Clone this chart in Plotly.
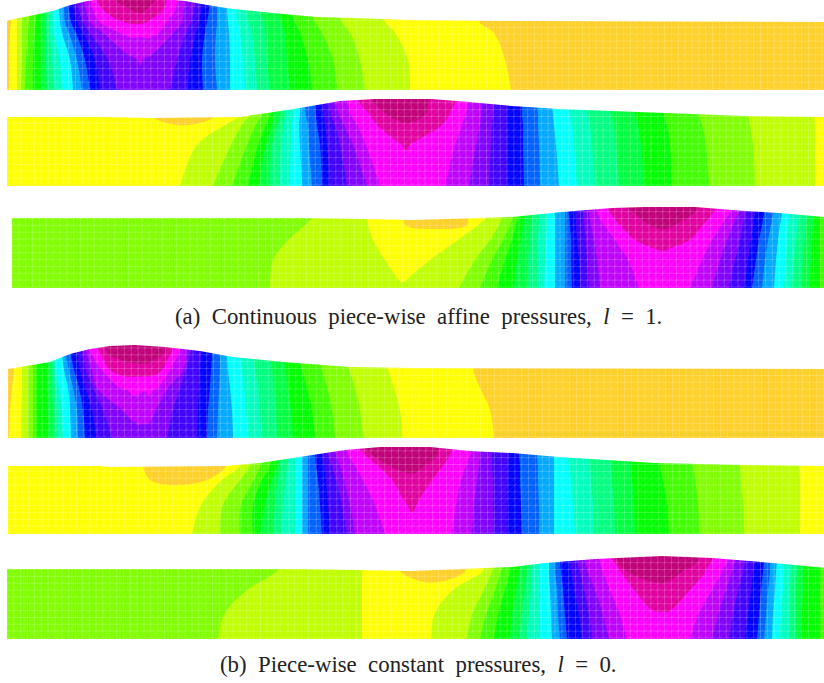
import numpy as np
import plotly.graph_objects as go

# Pressure bands, lowest to highest (19 levels)
BAND_COLORS = ["#ffd028", "#ffff00", "#bfff00", "#80ff00", "#40ff00", "#00ff00", "#00ff40",
               "#00ff80", "#00ffbf", "#00ffff", "#00a8ff", "#0060ff", "#0000ff", "#4000ff",
               "#8000ff", "#bf00ff", "#ff00ff", "#e000a0", "#c00078"]

# Each panel: sampled rows (y), sampled columns as (pressure level, x in each row), top surface.
P1_ROWS = [-2, 10, 22, 33, 60, 90]
P1_COLS = [
    (0, 7), (0.5, [11, 11, 11, 10, 9, 9]), (1.5, 17), (2.5, [23, 23, 22, 22, 22, 21]),
    (3.5, [30, 30, 29, 28, 26, 25]), (4.5, [37, 37, 36, 35, 33, 33]), (5.5, [43, 42, 42, 42, 42, 42]),
    (6.5, [47, 47, 46, 46, 46, 47]), (7.5, [51, 50, 50, 50, 52, 55]), (8.5, [53, 53, 53, 54, 60, 63]),
    (9.5, [58, 59, 60, 62, 70, 73]), (10.5, [63, 64, 65, 69, 77, 82]), (11.5, [67, 69, 71, 76, 85, 90]),
    (12.5, [72, 74, 77, 83, 95, 100]), (13.5, [77, 79, 83, 90, 108, 117]),
    ([14.5, 14.5, 14.5, 14.5, 14.2, 14], [83, 86, 90, 103, 120, 130]),
    ([15.5, 15.5, 15.5, 15.5, 14.3, 14], [90, 93, 100, 120, 130, 135]),
    ([16.5, 16.5, 16.5, 15.8, 14.4, 14], [96, 103, 123, 130, 135, 138]),
    ([19, 17.8, 16.7, 15.7, 14.6, 14.1], 140),
    ([16.5, 16.5, 16.5, 15.8, 14.4, 14], [167, 163, 147, 150, 145, 142]),
    ([15.5, 15.5, 15.5, 15.5, 14.3, 14], [178, 175, 167, 158, 150, 146]),
    ([14.5, 14.5, 14.5, 14.5, 14.2, 14], [186, 184, 182, 173, 160, 150]),
    (13.5, [196, 194, 191, 186, 177, 170]), (12.5, [202, 201, 199, 196, 190, 188]),
    (11.5, [210, 209, 207, 205, 202, 203]), (10.5, [218, 217, 217, 216, 215, 217]),
    (9.5, [226, 227, 228, 229, 230, 230]), (8.5, [235, 236, 238, 240, 243, 245]),
    (7.5, [245, 246, 249, 252, 255, 257]), (6.5, [258, 260, 264, 266, 267, 270]),
    (5.5, [275, 277, 282, 285, 287, 290]), (4.5, [288, 290, 295, 300, 308, 312]),
    (3.5, [307, 309, 315, 322, 333, 337]), (2.5, [335, 337, 342, 350, 360, 365]),
    (1.5, [380, 381, 385, 395, 408, 410]), (0.5, [476, 477, 479, 494, 505, 511]), (0, 824),
]
P1_TOP_X = [7, 10, 30, 53, 67, 87, 95, 135, 175, 185, 207, 233, 283, 317, 367, 412, 520, 824]
P1_TOP_Y = [21, 20, 16, 11, 6, 1, 0, -6, 0, 1, 5, 9, 14, 17, 18.5, 20, 21, 22]

P2_ROWS = [95, 105, 115, 125, 145, 186]
P2_COLS = [
    (1, 7),
    ([0.5, 0.5, 0.5, 0.8, 1, 1], [150, 150, 150, 165, 165, 165]),
    ([0, 0, 0.2, 0.45, 1, 1], [182, 182, 182, 182, 172, 170]),
    ([0.5, 0.5, 0.5, 0.8, 1, 1], [217, 217, 217, 200, 180, 174]),
    (1.5, [245, 243, 241, 225, 197, 180]), (2.5, [256, 254, 251, 242, 231, 213]),
    (3.5, [265, 264, 262, 256, 247, 232]), (4.5, [273, 272, 270, 266, 258, 248]),
    (5.5, [277, 276, 274, 272, 266, 259]), (6.5, [283, 282, 281, 278, 272, 270]),
    (7.5, [287, 286, 285, 284, 281, 280]), (8.5, [294, 294, 293, 292, 291, 290]),
    (9.5, [300, 300, 300, 299, 300, 302]), (10.5, [304, 305, 306, 308, 309, 312]),
    (11.5, [313, 315, 316, 317, 320, 322]), (12.5, [320, 322, 323, 325, 327, 330]),
    (13.5, [327, 329, 331, 335, 340, 347]), (14.5, [333, 336, 339, 344, 353, 367]),
    (15.5, [345, 348, 351, 357, 366, 380]),
    ([16.5, 16.5, 16.5, 16.5, 16.4, 16], [355, 361, 370, 377, 397, 400]),
    ([17.5, 17.5, 17.5, 17.1, 16.45, 16], [368, 376, 388, 392, 400, 402]),
    ([19, 18.7, 18, 17.4, 16.6, 16], 406),
    ([17.5, 17.5, 17.5, 17.1, 16.45, 16], [430, 428, 425, 420, 412, 410]),
    ([16.5, 16.5, 16.5, 16.5, 16.4, 16], [458, 454, 449, 442, 419, 415]),
    (15.5, [470, 468, 465, 462, 455, 445]), (14.5, [483, 482, 481, 480, 476, 469]),
    (13.5, [494, 494, 493, 492, 491, 489]), (12.5, 507),
    (11.5, [522, 522, 522, 523, 523, 524]), (10.5, [537, 537, 538, 538, 539, 540]),
    (9.5, [551, 552, 553, 554, 556, 559]), (8.5, [567, 568, 570, 572, 574, 577]),
    (7.5, [585, 586, 588, 590, 592, 595]), (6.5, [609, 610, 612, 614, 616, 619]),
    (5.5, [630, 632, 635, 638, 641, 644]), (4.5, [659, 661, 664, 667, 670, 672]),
    (3.5, [694, 696, 699, 702, 706, 709]), (2.5, [744, 746, 748, 750, 753, 755]),
    (1.5, [814, 814, 814, 815, 815, 815]), (1, 824),
]
P2_TOP_X = [7, 100, 150, 240, 300, 340, 375, 412, 432, 469, 512, 559, 655, 745, 824]
P2_TOP_Y = [117, 117, 118, 117, 108, 101, 99, 99, 99, 102, 106, 109, 113, 116, 117]

P3_ROWS = [204, 214, 225, 240, 260, 288]
P3_COLS = [
    (3, 12), (2.5, [320, 315, 305, 288, 273, 270]),
    ([1.5, 1.5, 1.5, 1.5, 1.5, 1.65], [365, 366, 368, 373, 385, 396]),
    ([1, 1, 1, 1.1, 1.1, 1.6], [402, 402, 402, 402, 400, 402]),
    ([0.5, 0.5, 0.5, 0.9, 1.1, 1.6], [405, 405, 405, 417, 403, 404]),
    ([0, 0, 0.35, 0.9, 1.1, 1.6], [435, 435, 435, 425, 406, 406]),
    ([0.5, 0.5, 0.5, 0.9, 1.1, 1.65], [467, 467, 467, 440, 412, 408]),
    ([1.5, 1.5, 1.5, 1.5, 1.5, 1.7], [495, 490, 478, 458, 430, 410]),
    (2.5, [505, 503, 499, 490, 475, 459]), (3.5, [515, 513, 510, 503, 492, 480]),
    (4.5, [521, 519, 516, 512, 505, 497]), (5.5, [526, 525, 523, 521, 517, 514]),
    (6.5, [534, 533, 531, 530, 528, 527]), (7.5, [540, 539, 539, 538, 538, 537]),
    (8.5, [548, 547, 547, 546, 545, 544]), (9.5, 555), (10.5, 565),
    (11.5, [568, 569, 570, 571, 571, 572]), (12.5, [574, 575, 576, 577, 579, 580]),
    (13.5, [582, 583, 584, 586, 587, 589]), (14.5, [588, 589, 591, 594, 597, 600]),
    (15.5, [596, 598, 604, 615, 628, 639]),
    ([16.5, 16.5, 16.5, 16.5, 16.1, 16], [605, 611, 620, 635, 650, 655]),
    ([17.5, 17.5, 17.5, 16.8, 16.1, 16], [622, 635, 650, 650, 658, 660]),
    ([19, 18.5, 17.8, 16.9, 16.2, 16], 664),
    ([17.5, 17.5, 17.5, 16.8, 16.1, 16], [702, 693, 675, 672, 668, 668]),
    ([16.5, 16.5, 16.5, 16.5, 16.1, 16], [720, 712, 703, 690, 675, 672]),
    (15.5, [735, 729, 722, 712, 702, 690]), (14.5, [742, 738, 733, 727, 720, 712]),
    (13.5, [749, 746, 743, 740, 735, 729]), (12.5, [757, 755, 753, 751, 748, 744]),
    (11.5, [766, 764, 762, 759, 756, 752]), (10.5, [775, 773, 771, 768, 765, 762]),
    (9.5, [783, 782, 780, 778, 776, 774]), (8.5, [790, 790, 788, 787, 786, 784]),
    (7.5, [800, 799, 798, 796, 794, 792]), (6.5, [808, 807, 806, 805, 803, 802]),
    (5.5, [815, 814, 813, 812, 811, 810]), (4.5, [821, 820, 820, 820, 820, 820]), (4.2, 824),
]
P3_TOP_X = [12, 310, 412, 512, 562, 612, 645, 695, 745, 779, 824]
P3_TOP_Y = [218, 218, 220, 217, 212, 208, 207, 207, 211, 213, 217]

P4_ROWS = [343, 355, 370, 388, 410, 438]
P4_COLS = [
    (0, 8), (0.5, [15, 15, 14, 12, 10, 9]), (1.5, [22, 22, 22, 22, 21, 21]), (2.5, 28), (3.5, 33),
    (4.5, 37), (5.5, [46, 46, 47, 47, 48, 48]), (6.5, [50, 50, 51, 52, 53, 53]),
    (7.5, [53, 53, 54, 55, 57, 58]), (8.5, [55, 55, 56, 59, 62, 63]), (9.5, [61, 62, 64, 68, 70, 71]),
    (10.5, [65, 66, 69, 73, 77, 78]), (11.5, [70, 71, 74, 79, 83, 85]), (12.5, [75, 77, 80, 85, 92, 96]),
    (13.5, [80, 83, 86, 93, 103, 112]),
    ([14.5, 14.5, 14.5, 14.5, 14.5, 14.1], [84, 87, 92, 97, 122, 132]),
    ([15.5, 15.5, 15.5, 15.5, 14.8, 14.1], [88, 92, 102, 120, 130, 136]),
    ([16.5, 16.5, 16.5, 15.6, 14.9, 14.1], [95, 101, 110, 127, 134, 138]),
    ([17.5, 17.5, 16.9, 15.8, 15, 14.1], [102, 110, 120, 132, 137, 140]),
    ([19, 18.2, 17, 15.6, 14.9, 14.1], 145),
    ([17.5, 17.5, 16.9, 15.8, 15, 14.1], [170, 162, 153, 150, 148, 147]),
    ([16.5, 16.5, 16.5, 15.6, 14.9, 14.1], [176, 170, 162, 153, 150, 149]),
    ([15.5, 15.5, 15.5, 15.5, 14.8, 14.1], [182, 178, 170, 158, 152, 151]),
    ([14.5, 14.5, 14.5, 14.5, 14.5, 14.1], [188, 186, 183, 168, 156, 153]),
    (13.5, [193, 190, 186, 180, 173, 167]), (12.5, [202, 201, 200, 199, 198, 197]),
    (11.5, [213, 212, 211, 210, 208, 207]), (10.5, [221, 220, 220, 219, 218, 217]),
    (9.5, [226, 227, 228, 230, 232, 233]), (8.5, [238, 240, 242, 244, 246, 248]),
    (7.5, [251, 253, 255, 258, 260, 262]), (6.5, [268, 270, 272, 274, 276, 277]),
    (5.5, [281, 283, 286, 288, 291, 293]), (4.5, [295, 297, 302, 307, 312, 315]),
    (3.5, [315, 317, 322, 327, 332, 335]), (2.5, [341, 343, 349, 355, 360, 363]),
    (1.5, [382, 383, 388, 394, 400, 402]), (0.5, [472, 472, 473, 480, 490, 494]), (0, 824),
]
P4_TOP_X = [8, 50, 70, 90, 110, 135, 165, 200, 233, 283, 350, 412, 824]
P4_TOP_Y = [369, 362, 354, 349, 346, 345, 347, 351, 357, 362, 367, 368, 369]

P5_ROWS = [444, 455, 466, 480, 505, 534]
P5_COLS = [
    (1, 8),
    ([0.5, 0.5, 0.5, 0.5, 1, 1], [143, 143, 143, 150, 170, 172]),
    ([0, 0, 0.1, 0.35, 1, 1], [185, 185, 185, 175, 174, 175]),
    ([0.5, 0.5, 0.5, 0.5, 1, 1], [226, 226, 226, 207, 180, 182]),
    (1.5, [245, 243, 240, 222, 201, 192]), (2.5, [256, 254, 250, 240, 223, 220]),
    (3.5, [265, 263, 260, 254, 241, 240]), (4.5, [273, 272, 270, 262, 253, 253]),
    (5.5, [279, 278, 277, 272, 265, 260]), (6.5, [282, 281, 280, 278, 275, 273]),
    (7.5, [288, 288, 287, 286, 283, 282]), (8.5, 295), (9.5, 302), (10.5, 308),
    (11.5, [314, 315, 316, 318, 320, 322]), (12.5, [320, 322, 324, 326, 328, 330]),
    (13.5, [326, 328, 332, 336, 342, 347]), (14.5, [332, 336, 340, 344, 350, 355]),
    (15.5, [345, 348, 355, 363, 375, 385]),
    ([16.5, 16.5, 16.5, 16.5, 16.3, 16], [355, 365, 378, 392, 402, 404]),
    ([17.5, 17.5, 17.5, 17.1, 16.4, 16], [360, 372, 390, 400, 405, 407]),
    ([19, 18.6, 17.9, 17.2, 16.7, 16], 412),
    ([17.5, 17.5, 17.5, 17.1, 16.4, 16], [440, 437, 425, 420, 418, 416]),
    ([16.5, 16.5, 16.5, 16.5, 16.3, 16], [455, 450, 443, 432, 420, 418]),
    (15.5, [473, 470, 466, 461, 456, 452]), (14.5, [482, 480, 479, 477, 474, 472]),
    (13.5, [491, 492, 492, 493, 493, 494]), (12.5, [509, 509, 508, 508, 507, 507]),
    (11.5, [518, 519, 520, 520, 521, 522]), (10.5, [537, 537, 538, 538, 539, 539]), (9.5, 554),
    (8.5, [566, 567, 569, 571, 573, 575]), (7.5, [588, 589, 590, 591, 593, 594]),
    (6.5, [608, 609, 611, 612, 614, 615]), (5.5, [628, 629, 631, 632, 634, 635]),
    (4.5, [655, 657, 660, 663, 667, 669]), (3.5, [688, 690, 693, 695, 698, 699]),
    (2.5, [735, 737, 740, 741, 743, 744]), (1.5, [799, 799, 799, 800, 800, 800]), (1, 824),
]
P5_TOP_X = [8, 100, 110, 225, 260, 300, 345, 380, 412, 430, 470, 512, 559, 655, 745, 824]
P5_TOP_Y = [466, 466, 467, 466, 463, 457, 450, 447, 447, 447, 451, 453, 457, 463, 465, 466]

P6_ROWS = [552, 562, 572, 590, 615, 639]
P6_COLS = [
    (3, 7), (2.5, [288, 283, 276, 247, 224, 218]), (1.5, 362),
    ([0.5, 0.5, 0.5, 0.9, 1, 1], [398, 398, 401, 420, 425, 427]),
    ([0, 0, 0.1, 0.75, 1, 1], [430, 430, 430, 430, 428, 428]),
    ([0.5, 0.5, 0.5, 0.9, 1, 1], [467, 467, 465, 445, 431, 429.5]),
    (1.5, [488, 487, 482, 453, 434, 431]),
    (2.5, [495, 494, 492, 484, 472, 467]), (3.5, [504, 503, 501, 495, 486, 480]),
    (4.5, [512, 511, 510, 505, 498, 494]), (5.5, [520, 520, 519, 516, 512, 510]),
    (6.5, [528, 527, 527, 525, 522, 519]), (7.5, [533, 533, 532, 531, 529, 527]), (8.5, 540),
    (9.5, [548, 549, 549, 550, 551, 552]), (10.5, [554, 555, 555, 557, 558, 560]),
    (11.5, [559, 560, 561, 563, 565, 567]), (12.5, [567, 569, 571, 574, 579, 582]),
    (13.5, [575, 577, 580, 584, 589, 592]), (14.5, [583, 585, 588, 595, 603, 609]),
    (15.5, [597, 600, 603, 610, 620, 627]),
    ([16.5, 16.5, 16.5, 16.5, 16.3, 16], [608, 614, 621, 634, 650, 650]),
    ([17.5, 17.5, 17.5, 17.1, 16.4, 16], [612, 618, 628, 645, 655, 658]),
    ([19, 18.7, 18.2, 17.1, 16.4, 16], 662),
    ([17.5, 17.5, 17.5, 17.1, 16.4, 16], [702, 697, 682, 678, 668, 666]),
    ([16.5, 16.5, 16.5, 16.5, 16.3, 16], [716, 711, 705, 690, 672, 670]),
    (15.5, [730, 727, 722, 712, 698, 690]), (14.5, [738, 735, 732, 726, 718, 712]),
    (13.5, [747, 745, 743, 738, 733, 729]), (12.5, [757, 755, 753, 751, 748, 745]),
    (11.5, [765, 764, 763, 761, 759, 757]), (10.5, [771, 770, 770, 768, 766, 764]),
    (9.5, [778, 777, 776, 775, 773, 772]), (8.5, [785, 784, 784, 783, 781, 780]),
    (7.5, [792, 792, 791, 790, 790, 789]), (6.5, [798, 798, 797, 796, 796, 795]),
    (5.5, [804, 804, 803, 803, 802, 802]), (4.5, 820), (4.2, 824),
]
P6_TOP_X = [7, 300, 412, 512, 545, 595, 662, 712, 762, 824]
P6_TOP_Y = [569, 569, 571, 567, 563, 559, 556, 558, 562, 568]

PANELS = [
    (P1_ROWS, P1_COLS, P1_TOP_X, P1_TOP_Y),
    (P2_ROWS, P2_COLS, P2_TOP_X, P2_TOP_Y),
    (P3_ROWS, P3_COLS, P3_TOP_X, P3_TOP_Y),
    (P4_ROWS, P4_COLS, P4_TOP_X, P4_TOP_Y),
    (P5_ROWS, P5_COLS, P5_TOP_X, P5_TOP_Y),
    (P6_ROWS, P6_COLS, P6_TOP_X, P6_TOP_Y),
]

CAPTIONS = ["(a)\u00a0\u00a0Continuous\u00a0\u00a0piece-wise\u00a0\u00a0affine\u00a0\u00a0pressures,\u00a0\u00a0<i>l</i>\u00a0\u00a0=\u00a0\u00a01.",
            "(b)\u00a0\u00a0Piece-wise\u00a0\u00a0constant\u00a0\u00a0pressures,\u00a0\u00a0<i>l</i>\u00a0\u00a0=\u00a0\u00a00."]
CAPTION_X = [418.5, 418.5]
CAPTION_Y = [316, 664]
MESH_STEP = 6.85

n_bands = len(BAND_COLORS)
colorscale = []
for i, c in enumerate(BAND_COLORS):
    colorscale += [[i / n_bands, c], [(i + 1) / n_bands, c]]

fig = go.Figure()
for idx, (rows, cols, top_x, top_y) in enumerate(PANELS):
    nrow = len(rows)
    xs = np.array([np.full(nrow, c[1], dtype=float) if np.isscalar(c[1]) else np.array(c[1], dtype=float)
                   for c in cols]).T
    zs = np.array([np.full(nrow, c[0], dtype=float) if np.isscalar(c[0]) else np.array(c[0], dtype=float)
                   for c in cols]).T
    ys = np.tile(np.array(rows, dtype=float)[:, None], (1, len(cols)))
    a = list(range(len(cols)))
    b = list(range(nrow))
    cid = f"panel{idx}"
    axis = dict(showticklabels="none", showgrid=False, startline=False, endline=False,
                minorgridcount=0, showline=False)
    fig.add_trace(go.Carpet(a=a, b=b, x=xs.tolist(), y=ys.tolist(), carpet=cid, aaxis=axis, baxis=axis))
    fig.add_trace(go.Contourcarpet(a=a, b=b, z=zs.tolist(), carpet=cid, autocontour=False,
                                   contours=dict(start=0.5, end=17.5, size=1, coloring="fill", showlines=False),
                                   line=dict(width=0), colorscale=colorscale, zmin=-0.5, zmax=n_bands - 0.5,
                                   showscale=False))
    # computational mesh overlay
    x0, x1 = xs[0, 0], 824
    y0, y1 = rows[0], rows[-1] - 1
    gx = np.arange(x0, x1 + 1, MESH_STEP)
    gy = np.arange(y1, y0 - 1, -MESH_STEP)
    lx, ly = [], []
    for v in gx:
        lx += [v, v, None]
        ly += [y1, y0, None]
    for v in gy:
        lx += [x0, x1, None]
        ly += [v, v, None]
    fig.add_trace(go.Scatter(x=lx, y=ly, mode="lines", line=dict(color="rgba(255,255,255,0.2)", width=1),
                             hoverinfo="skip", showlegend=False))
    dx, dy = [], []
    for v in gx[:-1]:
        for w in gy[:-1]:
            dx += [v, v + MESH_STEP, None]
            dy += [w, w - MESH_STEP, None]
    fig.add_trace(go.Scatter(x=dx, y=dy, mode="lines", line=dict(color="rgba(255,255,255,0.15)", width=0.6),
                             hoverinfo="skip", showlegend=False))
    # everything above the free surface is blank
    top = rows[0] - 1
    fig.add_trace(go.Scatter(x=[top_x[0] - 2] + list(top_x) + [826, 826, top_x[0] - 2],
                             y=[top_y[0]] + list(top_y) + [top_y[-1], top, top],
                             mode="lines", fill="toself", fillcolor="white", line=dict(width=0, color="white"),
                             hoverinfo="skip", showlegend=False))

for text, cx, cy in zip(CAPTIONS, CAPTION_X, CAPTION_Y):
    fig.add_annotation(x=cx, y=cy, text=text, showarrow=False, xanchor="center", yanchor="middle",
                       font=dict(family="Liberation Serif", size=22.8, color="#222222"))

fig.update_layout(width=824, height=683, margin=dict(l=0, r=0, t=0, b=0), plot_bgcolor="white",
                  paper_bgcolor="white", showlegend=False,
                  xaxis=dict(range=[0, 824], visible=False, fixedrange=True),
                  yaxis=dict(range=[683, 0], visible=False, fixedrange=True))
fig.write_html("out.html", config={"displayModeBar": False},
               post_script="document.body.style.margin='0';document.documentElement.style.overflow='hidden';")
